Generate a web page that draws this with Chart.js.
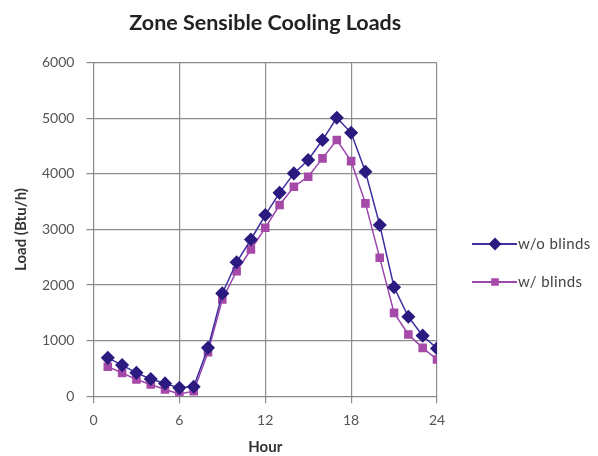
<!DOCTYPE html>
<html>
<head>
<meta charset="utf-8">
<script src="https://cdn.jsdelivr.net/npm/chart.js@4"></script>
<style>
  html, body { margin: 0; padding: 0; background: #fff; }
  #wrap { width: 598px; height: 456px; }
</style>
</head>
<body>
<div id="wrap"><canvas id="loadChart" width="598" height="456"></canvas></div>
<script>
const hours = [1, 2, 3, 4, 5, 6, 7, 8, 9, 10, 11, 12, 13, 14, 15, 16, 17, 18, 19, 20, 21, 22, 23, 24];
const noBlinds = [690, 560, 420, 310, 230, 150, 170, 870, 1850, 2410, 2820, 3260, 3660, 4010, 4250, 4610, 5010, 4740, 4040, 3080, 1960, 1430, 1090, 860];
const withBlinds = [530, 420, 300, 210, 120, 40, 90, 790, 1740, 2250, 2640, 3030, 3440, 3770, 3950, 4280, 4610, 4230, 3470, 2490, 1500, 1110, 870, 660];
const xTicks = [0, 6, 12, 18, 24];
const yTicks = [0, 1000, 2000, 3000, 4000, 5000, 6000];

const FONT = 'Lato, "Open Sans", sans-serif';

const toPoints = (vals) => vals.map((v, i) => ({ x: hours[i], y: v }));

// legend drawn by hand so each entry shows line + marker like the original
const sideLegend = {
  id: 'sideLegend',
  afterDraw(chart) {
    const ctx = chart.ctx;
    const x0 = chart.chartArea.right + 35;
    const rows = [244, 282];
    chart.data.datasets.forEach((ds, i) => {
      const y = rows[i];
      ctx.save();
      ctx.strokeStyle = ds.borderColor;
      ctx.lineWidth = 2;
      ctx.beginPath();
      ctx.moveTo(x0, y);
      ctx.lineTo(x0 + 45, y);
      ctx.stroke();
      ctx.fillStyle = ds.pointBackgroundColor;
      ctx.strokeStyle = ds.pointBorderColor;
      Chart.helpers.drawPoint(ctx, { pointStyle: ds.pointStyle, radius: ds.pointRadius - 1, borderWidth: 1 }, x0 + 23, y);
      ctx.fillStyle = '#444';
      ctx.font = '15px ' + FONT;
      ctx.letterSpacing = '0.4px';
      ctx.textBaseline = 'middle';
      ctx.fillText(ds.label, x0 + 46, y);
      ctx.restore();
    });
  }
};

new Chart(document.getElementById('loadChart'), {
  type: 'line',
  data: {
    datasets: [
      {
        label: 'w/o blinds',
        data: toPoints(noBlinds),
        borderColor: '#3d2f9e',
        borderWidth: 1.5,
        pointStyle: 'rectRot',
        pointRadius: 6,
        pointBackgroundColor: '#2b1b80',
        pointBorderColor: '#2b1b80'
      },
      {
        label: 'w/ blinds',
        data: toPoints(withBlinds),
        borderColor: '#9b45ad',
        borderWidth: 1.5,
        pointStyle: 'rect',
        pointRadius: 5,
        pointBackgroundColor: '#a54aa8',
        pointBorderColor: '#a54aa8'
      }
    ]
  },
  options: {
    responsive: false,
    animation: false,
    layout: { padding: { left: 12, right: 161, top: 4, bottom: 0 } },
    plugins: {
      legend: { display: false },
      tooltip: { enabled: false },
      title: {
        display: true,
        fullSize: false,
        text: 'Zone Sensible Cooling Loads',
        color: '#222',
        font: { family: FONT, size: 21.5, weight: 'bold' },
        padding: { top: 6, bottom: 27 }
      }
    },
    scales: {
      x: {
        type: 'linear',
        min: 0,
        max: 24,
        afterBuildTicks: (axis) => { axis.ticks = xTicks.map(v => ({ value: v })); },
        grid: { color: '#8c8c8c', lineWidth: 1.2, tickLength: 7 },
        border: { color: '#888' },
        ticks: { color: '#555', font: { family: FONT, size: 14 }, padding: 9, callback: (v) => String(v) },
        title: { display: true, text: 'Hour', color: '#333', font: { family: FONT, size: 15, weight: 'bold' }, padding: { top: 0, bottom: 0 } }
      },
      y: {
        min: 0,
        max: 6000,
        afterBuildTicks: (axis) => { axis.ticks = yTicks.map(v => ({ value: v })); },
        grid: { color: '#8c8c8c', lineWidth: 1.2, tickLength: 7 },
        border: { color: '#888' },
        ticks: { color: '#555', font: { family: FONT, size: 14 }, padding: 12, callback: (v) => String(v) },
        title: { display: true, text: 'Load (Btu/h)', color: '#333', font: { family: FONT, size: 15, weight: 'bold' }, padding: { top: 0, bottom: 0 } }
      }
    }
  },
  plugins: [sideLegend]
});
</script>
</body>
</html>
